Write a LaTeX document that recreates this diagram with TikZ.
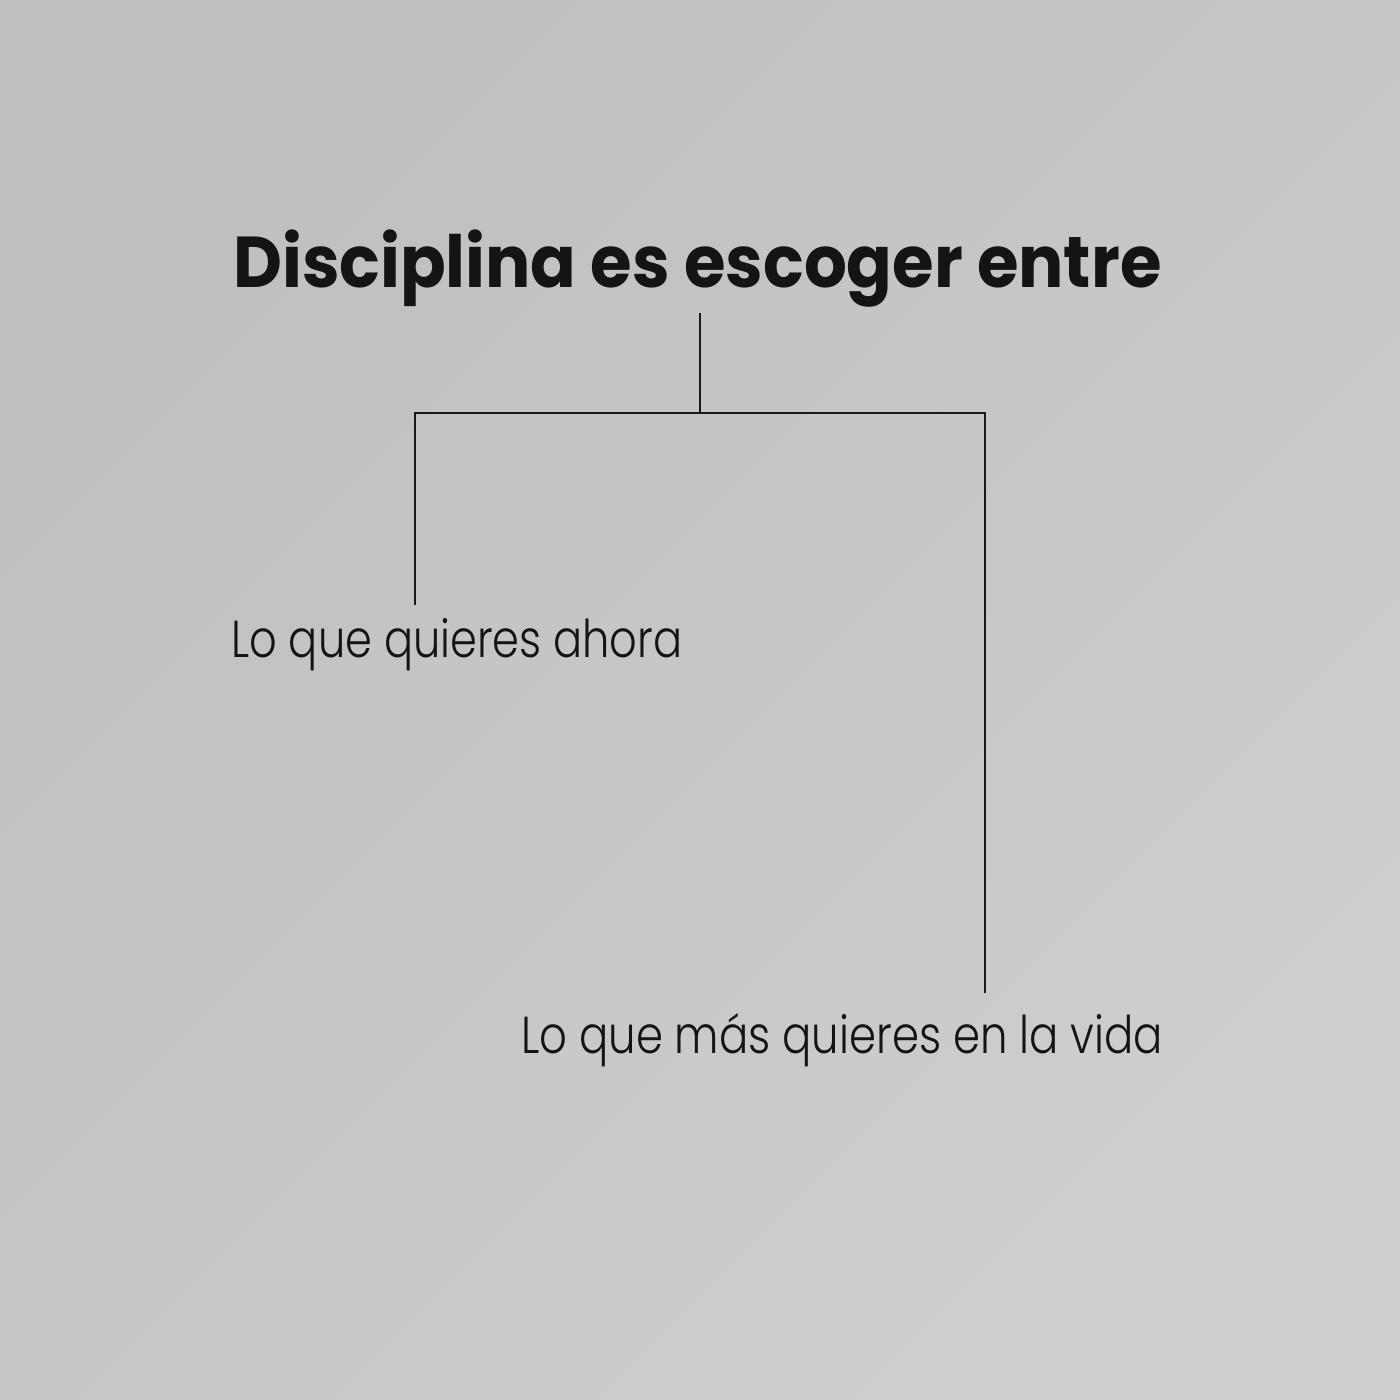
\documentclass[tikz,border=0pt]{standalone}
\usepackage{graphicx}
\usepackage{fontspec}
\setmainfont{Poppins}
\newfontfamily\lightfont{Poppins Light}
\begin{document}
\begin{tikzpicture}[x=1pt,y=-1pt,
  txt/.style={inner sep=0pt,anchor=base west,text=black!92},
  conn/.style={line width=2.2pt,draw=black!90}]
\shade[left color=gray!50!white, right color=gray!38!white, shading angle=45] (0,0) rectangle (1400,1400);
\useasboundingbox (0,0) rectangle (1400,1400);
\node[txt] (title) at (233,287) {\scalebox{0.935}[1]{\fontsize{72}{80}\selectfont\bfseries Disciplina es escoger entre}};
\node[txt] (a) at (231,657) {\scalebox{0.83}[1]{\lightfont\fontsize{52}{60}\selectfont Lo que quieres ahora}};
\node[txt] (b) at (521,1053) {\scalebox{0.835}[1]{\lightfont\fontsize{52}{60}\selectfont Lo que más quieres en la vida}};
\coordinate (top) at (700,313);
\coordinate (j) at (700,413);
\coordinate (ca) at (415,413);
\coordinate (cb) at (985,413);
\coordinate (ea) at (415,605);
\coordinate (eb) at (985,993);
\draw[conn] (top) -- (j);
\draw[conn] (ea) -- (ca) -- (cb) -- (eb);
\end{tikzpicture}
\end{document}
